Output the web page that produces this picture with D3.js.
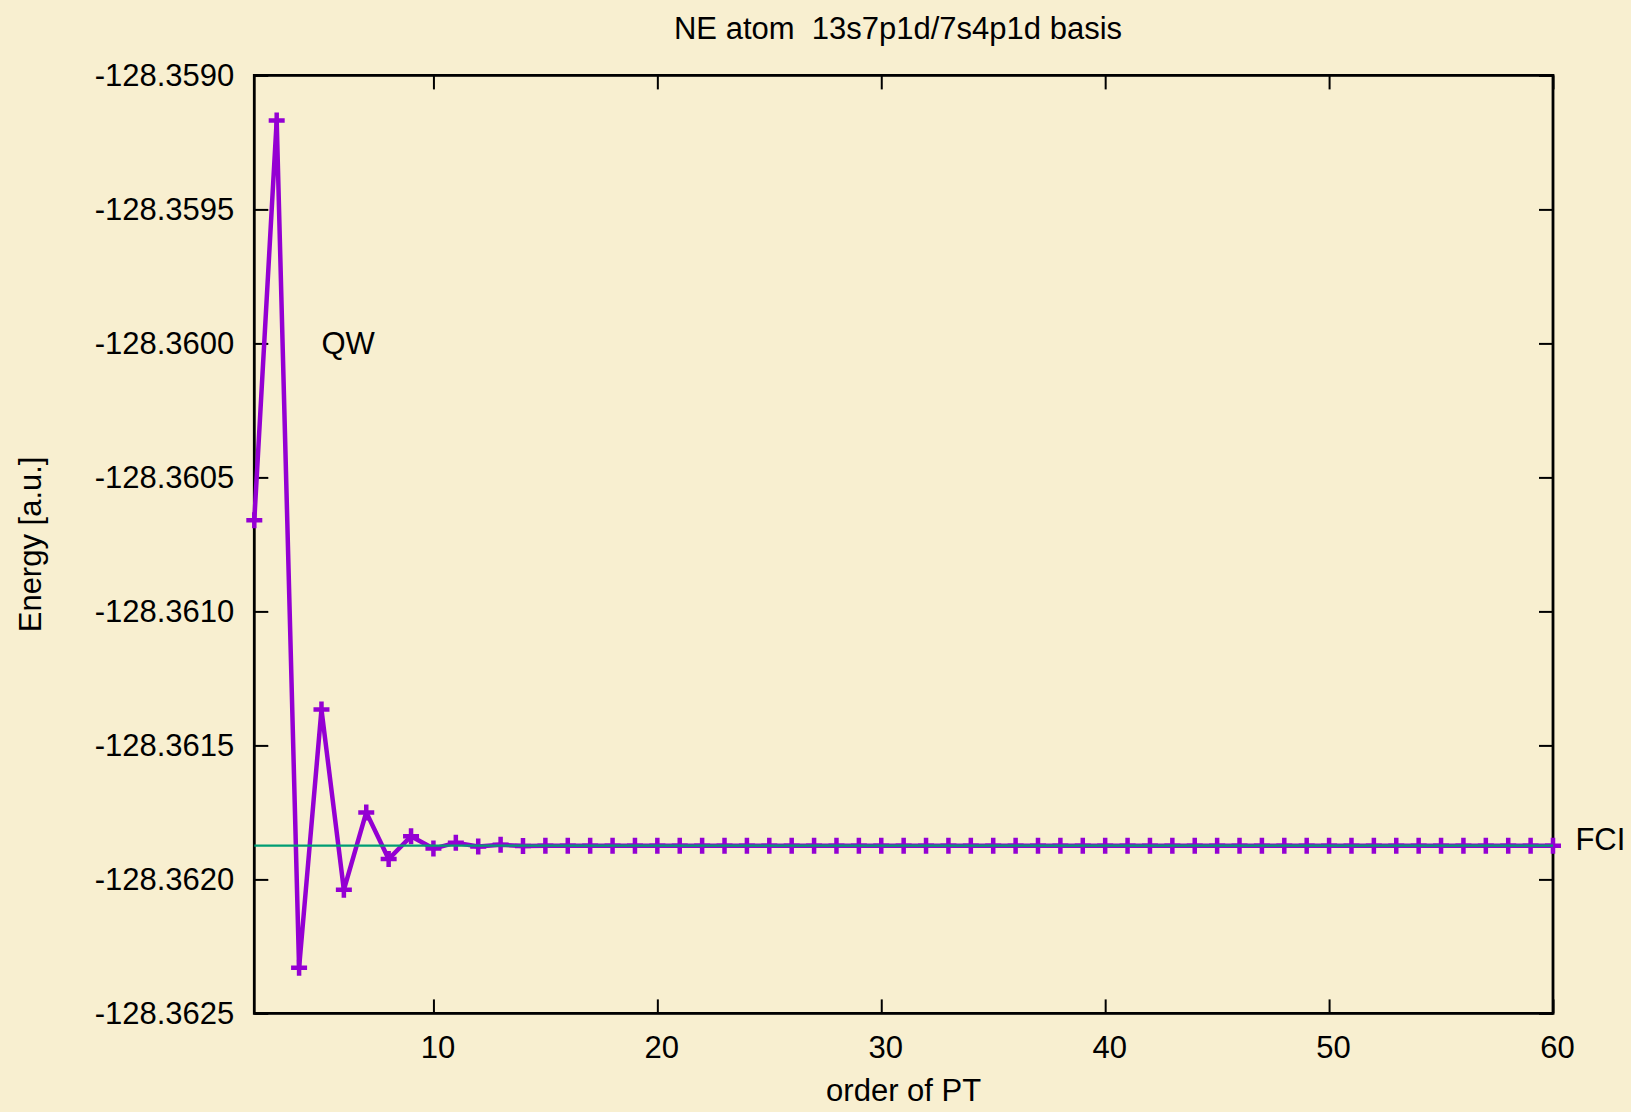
<!DOCTYPE html>
<html>
<head>
<meta charset="utf-8">
<script src="https://cdn.jsdelivr.net/npm/d3@7"></script>
<style>
  html, body { margin: 0; padding: 0; background: #f8efd0; }
  svg { display: block; }
  text { font-family: "Liberation Sans", Arial, sans-serif; fill: #000; white-space: pre; }
</style>
</head>
<body>
<svg id="chart" width="1631" height="1112"></svg>
<script>
// Perturbation-theory order for each energy
const orders = [
  2, 3, 4, 5, 6, 7, 8, 9, 10, 11, 12, 13, 14, 15, 16, 17, 18, 19, 20,
  21, 22, 23, 24, 25, 26, 27, 28, 29, 30, 31, 32, 33, 34, 35, 36, 37, 38, 39, 40,
  41, 42, 43, 44, 45, 46, 47, 48, 49, 50, 51, 52, 53, 54, 55, 56, 57, 58, 59, 60
];

// QW energy at each order [a.u.]
const energies = [
  -128.360660, -128.359168, -128.362330, -128.361366, -128.362039, -128.361750,
  -128.361924, -128.361839, -128.361885, -128.361863, -128.361877, -128.361871,
  -128.361875, -128.361874, -128.361874, -128.361874, -128.361874, -128.361874,
  -128.361874, -128.361874, -128.361874, -128.361874, -128.361874, -128.361874,
  -128.361874, -128.361874, -128.361874, -128.361874, -128.361874, -128.361874,
  -128.361874, -128.361874, -128.361874, -128.361874, -128.361874, -128.361874,
  -128.361874, -128.361874, -128.361874, -128.361874, -128.361874, -128.361874,
  -128.361874, -128.361874, -128.361874, -128.361874, -128.361874, -128.361874,
  -128.361874, -128.361874, -128.361874, -128.361874, -128.361874, -128.361874,
  -128.361874, -128.361874, -128.361874, -128.361874, -128.361874
];

// Full CI reference energy [a.u.]
const fciEnergy = -128.361874;

// Axis ticks
const xTicks = [10, 20, 30, 40, 50, 60];
const yTicks = [-128.3590, -128.3595, -128.3600, -128.3605, -128.3610, -128.3615, -128.3620, -128.3625];

const title = "NE atom  13s7p1d/7s4p1d basis";
const xLabel = "order of PT";
const yLabel = "Energy [a.u.]";

const svg = d3.select("#chart");
const W = 1631, H = 1112;
const m = { left: 254.3, right: W - 1553, top: 75.4, bottom: H - 1013.4 };
const pw = W - m.left - m.right, ph = H - m.top - m.bottom;

svg.append("rect").attr("width", W).attr("height", H).attr("fill", "#f8efd0");

const x = d3.scaleLinear().domain([2, 60]).range([0, pw]);
const y = d3.scaleLinear().domain([-128.3625, -128.3590]).range([ph, 0]);

const g = svg.append("g").attr("transform", `translate(${m.left},${m.top})`);

const fontSize = 31;
const tickLen = 14;

// Bottom axis (ticks inward)
const xAxis = g.append("g").attr("transform", `translate(0,${ph})`)
  .call(d3.axisBottom(x).tickValues(xTicks).tickSize(-tickLen).tickPadding(23).tickFormat(d3.format("d")));
// Top mirror ticks
const xAxisTop = g.append("g")
  .call(d3.axisTop(x).tickValues(xTicks).tickSize(-tickLen).tickFormat(""));
// Left axis
const yAxis = g.append("g")
  .call(d3.axisLeft(y).tickValues(yTicks).tickSize(-tickLen).tickPadding(20).tickFormat(d3.format(".4f")));
// Right mirror ticks
const yAxisRight = g.append("g").attr("transform", `translate(${pw},0)`)
  .call(d3.axisRight(y).tickValues(yTicks).tickSize(-tickLen).tickFormat(""));

[xAxis, xAxisTop, yAxis, yAxisRight].forEach(a => {
  a.select(".domain").remove();
  a.selectAll(".tick line").attr("stroke", "#000").attr("stroke-width", 2);
  a.selectAll(".tick text")
    .style("font-family", '"Liberation Sans", Arial, sans-serif')
    .style("font-size", fontSize + "px")
    .attr("fill", "#000");
});
xAxis.selectAll(".tick text").attr("dx", 4);
// d3 uses U+2212 for negatives; use a plain hyphen
yAxis.selectAll(".tick text").text(d => d.toFixed(4)).attr("dy", "0.34em");

// Frame
g.append("rect").attr("width", pw).attr("height", ph)
  .attr("fill", "none").attr("stroke", "#000").attr("stroke-width", 2.8);

// QW series
const pts = orders.map((o, i) => [o, energies[i]]);
const line = d3.line().x(d => x(d[0])).y(d => y(d[1]));

g.append("path").datum(pts).attr("d", line)
  .attr("fill", "none").attr("stroke", "#9400d3").attr("stroke-width", 4.5)
  .attr("stroke-linejoin", "miter");

g.selectAll("path.pt").data(pts).join("path")
  .attr("class", "pt")
  .attr("transform", d => `translate(${x(d[0])},${y(d[1])})`)
  .attr("d", "M-8,0H8M0,-8V8")
  .attr("stroke", "#9400d3").attr("stroke-width", 4.5).attr("fill", "none");

// FCI reference line
g.append("line")
  .attr("x1", x(2)).attr("x2", x(60))
  .attr("y1", y(fciEnergy)).attr("y2", y(fciEnergy))
  .attr("stroke", "#009e73").attr("stroke-width", 2.2);

// Curve labels
g.append("text").attr("x", x(5)).attr("y", y(-128.3600)).attr("dy", "0.35em")
  .style("font-size", fontSize + "px").text("QW");
g.append("text").attr("x", x(61)).attr("y", y(fciEnergy)).attr("dy", "0.15em")
  .style("font-size", fontSize + "px").text("FCI");

// Title and axis titles
svg.append("text").attr("x", 898).attr("y", 38.5).attr("text-anchor", "middle")
  .attr("xml:space", "preserve")
  .style("font-size", fontSize + "px").text(title);
svg.append("text").attr("x", m.left + pw / 2).attr("y", 1101).attr("text-anchor", "middle")
  .style("font-size", fontSize + "px").text(xLabel);
svg.append("text")
  .attr("transform", `translate(41,${m.top + ph / 2}) rotate(-90)`)
  .attr("text-anchor", "middle")
  .style("font-size", fontSize + "px").text(yLabel);
</script>
</body>
</html>
